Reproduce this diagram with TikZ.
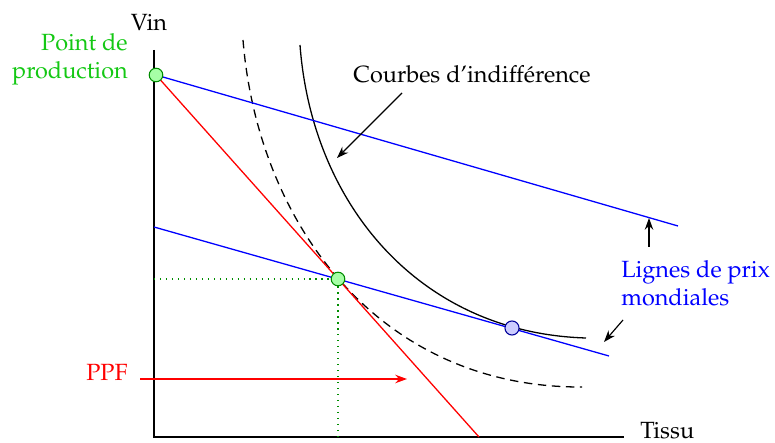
\documentclass[tikz,border=0pt]{standalone}
\usepackage[T1]{fontenc}
\usepackage{mathpazo}
\usetikzlibrary{arrows.meta}
\definecolor{ptgreen}{RGB}{20,200,20}
\definecolor{dotgreen}{RGB}{0,140,0}
\begin{document}
\begin{tikzpicture}[x=0.4264pt,y=-0.4264pt,
  axis/.style={black, line width=0.6pt},
  ann/.style={-{Stealth[length=5pt,width=3.6pt]}, line width=0.5pt},
  ptg/.style={circle, draw=dotgreen, fill=green!35, minimum size=5.8pt, inner sep=0pt, line width=0.45pt},
  ptb/.style={circle, draw=blue!60!black, fill=blue!20, minimum size=6pt, inner sep=0pt, line width=0.45pt},
  indiff/.style={black, line width=0.55pt},
  wline/.style={blue, line width=0.55pt},
  ppfline/.style={red, line width=0.55pt}]
\useasboundingbox (0,0) rectangle (775,443);
% axes
\coordinate (O) at (154,437);
\coordinate (ytop) at (154,50);
\coordinate (xend) at (624,437);
\draw[axis] (ytop) -- (O) -- (xend);
\node (vin) at (149,22) {Vin};
\node[anchor=west] (tissu) at (632,431) {Tissu};
% key points
\coordinate (A) at (156,75);
\coordinate (E) at (338,279);
\coordinate (C) at (512,328);
\coordinate (ppfend) at (479,437);
\coordinate (w1end) at (678,226);
\coordinate (w2start) at (154,227);
\coordinate (w2end) at (609,356);
\coordinate (Ey) at (154,279);
\coordinate (Ex) at (338,437);
% dotted projections
\draw[dotgreen, dotted, line width=0.55pt] (Ey) -- (E) -- (Ex);
% indifference curves
\coordinate (d0) at (243,40);
\coordinate (d3) at (582,387);
\coordinate (s0) at (300,45);
\coordinate (s3) at (586,338);
\draw[indiff, dash pattern=on 3.6pt off 2.4pt] (d0) .. controls (258,225) and (380,388) .. (d3);
\draw[indiff] (s0) .. controls (312,205) and (420,333) .. (s3);
% PPF and world price lines
\draw[ppfline] (A) -- (ppfend);
\draw[wline] (A) -- (w1end);
\draw[wline] (w2start) -- (w2end);
% points
\node[ptg] (pA) at (A) {};
\node[ptg] (pE) at (E) {};
\node[ptb] (pC) at (C) {};
% labels
\node[ptgreen, align=right, anchor=east] (pdp) at (136,59.5) {Point de\\production};
\node (courbes) at (472,74) {Courbes d'indiff\'erence};
\node[blue, align=left, anchor=west] (lignes) at (613,283) {Lignes de prix\\mondiales};
\node[red] (ppf) at (107,372) {PPF};
% annotation arrows
\coordinate (c1) at (402,93);
\coordinate (c2) at (337,158);
\coordinate (l1a) at (649,247);
\coordinate (l1b) at (649,218);
\coordinate (l2a) at (623,320);
\coordinate (l2b) at (604,342);
\coordinate (p1) at (140,379);
\coordinate (p2) at (407,379);
\draw[ann] (c1) -- (c2);
\draw[ann] (l1a) -- (l1b);
\draw[ann] (l2a) -- (l2b);
\draw[ann, red] (p1) -- (p2);
\end{tikzpicture}
\end{document}
